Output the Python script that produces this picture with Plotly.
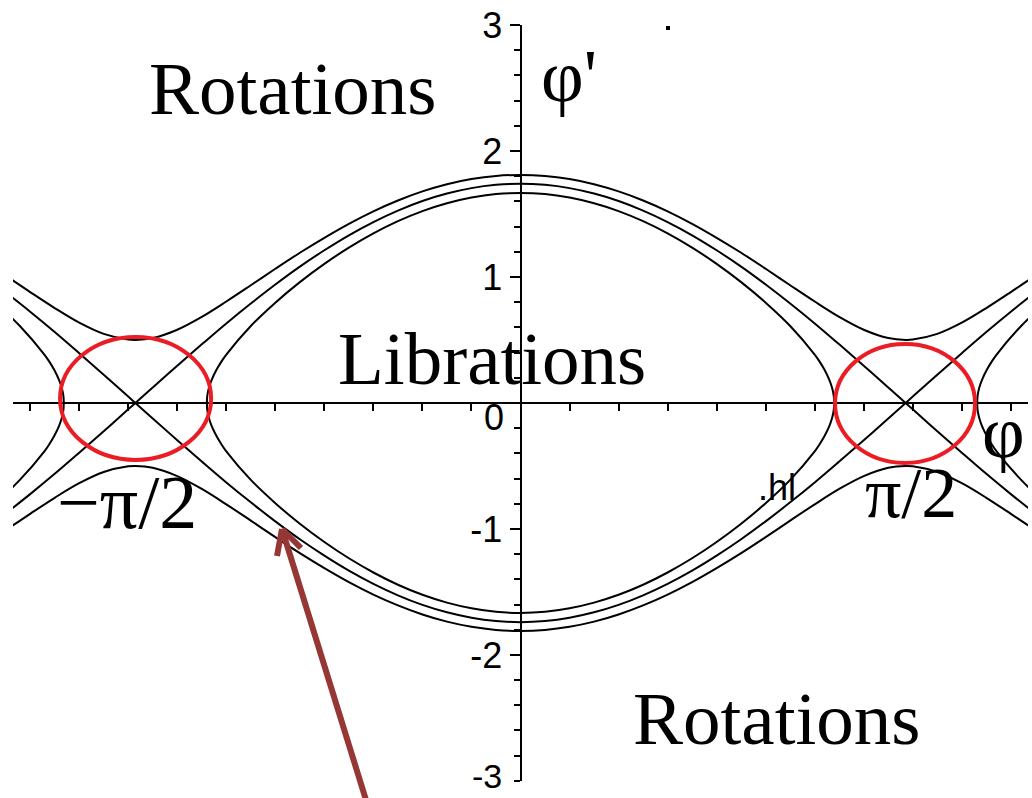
import plotly.graph_objects as go

# ---- phase-portrait data (phi >= 0 half; the portrait is symmetric) ----
phi_half = [0.0, 0.1, 0.2, 0.3, 0.4, 0.5, 0.6, 0.7, 0.8, 0.9, 1.0, 1.1, 1.2,
            1.3, 1.4, 1.5, 1.571, 1.6, 1.7, 1.8, 1.9, 2.0, 2.1]
separatrix_half = [1.740, 1.731, 1.705, 1.662, 1.603, 1.527, 1.436, 1.331, 1.212,
                   1.082, 0.940, 0.789, 0.631, 0.465, 0.296, 0.123, 0.000, -0.051,
                   -0.224, -0.395, -0.563, -0.724, -0.878]
rotation_half = [1.810, 1.802, 1.777, 1.736, 1.679, 1.607, 1.521, 1.422, 1.311,
                 1.192, 1.065, 0.934, 0.805, 0.683, 0.581, 0.515, 0.500, 0.503,
                 0.548, 0.637, 0.753, 0.880, 1.011]

libration_phi_half = [0.0, 0.1, 0.2, 0.3, 0.4, 0.5, 0.6, 0.7, 0.8, 0.9, 1.0, 1.1,
                      1.2, 1.22, 1.24, 1.26, 1.27, 1.275, 1.278, 1.279]
libration_half = [1.667, 1.658, 1.630, 1.585, 1.523, 1.443, 1.346, 1.233, 1.104,
                  0.959, 0.796, 0.611, 0.384, 0.328, 0.263, 0.182, 0.126, 0.086,
                  0.048, 0.0]

# neighbouring libration well (around phi = +/- pi), same energy level
side_phi = [1.863, 1.864, 1.867, 1.872, 1.882, 1.902, 1.922, 1.942, 2.042, 2.142]
side_vals = [0.0, 0.048, 0.086, 0.126, 0.182, 0.263, 0.328, 0.384, 0.611, 0.796]

y_tick_vals = [-2, -1, 1, 2, 3]
y_tick_text = ["-2", "-1", "1", "2", "3"]

# ---- build full curves ----
def mirror(xs, ys):
    return ([-x for x in reversed(xs[1:])] + list(xs),
            list(reversed(ys[1:])) + list(ys))

phi_full, sep_full = mirror(phi_half, separatrix_half)
_, rot_full = mirror(phi_half, rotation_half)

lib_x_up, lib_y_up = mirror(libration_phi_half, libration_half)
lib_x = lib_x_up + list(reversed(lib_x_up))[1:]
lib_y = lib_y_up + [-v for v in reversed(lib_y_up)][1:]

side_x = list(reversed(side_phi)) + side_phi[1:]
side_y = list(reversed(side_vals)) + [-v for v in side_vals[1:]]

line_style = dict(color="black", width=2, shape="spline", smoothing=1.0)

fig = go.Figure()
for ys in (sep_full, [-v for v in sep_full], rot_full, [-v for v in rot_full]):
    fig.add_trace(go.Scatter(x=phi_full, y=ys, mode="lines", line=line_style,
                             hoverinfo="skip"))
fig.add_trace(go.Scatter(x=lib_x, y=lib_y, mode="lines", line=line_style,
                         hoverinfo="skip"))
for sgn in (1, -1):
    fig.add_trace(go.Scatter(x=[sgn * v for v in side_x], y=side_y, mode="lines",
                             line=line_style, hoverinfo="skip"))

# ---- page geometry helpers ----
W, H = 1032, 798
ML, MR, MT, MB = 13, 4, 25, 17
PW, PH = W - ML - MR, H - MT - MB


def px(x):
    return (x - ML) / PW


def py(y):
    return (H - MB - y) / PH


serif = "Liberation Serif"
sans = "Liberation Sans"

annotations = []


def label(text, x, y, size, family=serif, xanchor="center", yanchor="middle"):
    annotations.append(dict(text=text, x=px(x), y=py(y), xref="paper", yref="paper",
                            showarrow=False, xanchor=xanchor, yanchor=yanchor,
                            font=dict(family=family, size=size, color="black")))


label("Rotations", 293, 88, 75)
label("Librations", 492, 358, 75)
label("Rotations", 777, 718, 75)
label("\u2212\u03c0/2", 127, 502, 76)
label("\u03c0/2", 911, 493, 72)
label("\u03c6'", 569, 76, 74)
label("\u03c6", 980, 432, 74, xanchor="left")
label("0", 494, 418, 36, family=sans)
label(".hl", 777, 487, 36, family=sans)
# lowest y tick label, kept inside the page
label("-3", 504, 797, 34, family=sans, xanchor="right", yanchor="bottom")

shapes = []
red = "#ec1c24"
# circles around the two saddle points
shapes.append(dict(type="circle", xref="x", yref="y", x0=-1.878, x1=-1.262,
                   y0=-0.452, y1=0.524, line=dict(color=red, width=4)))
shapes.append(dict(type="circle", xref="x", yref="y", x0=1.283, x1=1.854,
                   y0=-0.476, y1=0.468, line=dict(color=red, width=4)))

# arrow pointing at the separatrix
brown = "#953735"
tip = (282, 529)
shapes.append(dict(type="line", xref="paper", yref="paper",
                   x0=px(366), y0=py(800), x1=px(tip[0]), y1=py(tip[1]),
                   line=dict(color=brown, width=6)))
for end in ((277, 556), (301, 548)):
    shapes.append(dict(type="line", xref="paper", yref="paper",
                       x0=px(tip[0]), y0=py(tip[1]), x1=px(end[0]), y1=py(end[1]),
                       line=dict(color=brown, width=6)))

# small stray dot near the top
shapes.append(dict(type="rect", xref="paper", yref="paper",
                   x0=px(666), x1=px(670), y0=py(30), y1=py(26),
                   fillcolor="black", line=dict(width=0)))

fig.update_layout(
    width=W, height=H, autosize=False,
    margin=dict(l=ML, r=MR, t=MT, b=MB, pad=0),
    paper_bgcolor="white", plot_bgcolor="white",
    showlegend=False,
    xaxis=dict(range=[-2.07, 2.07], anchor="free", position=0.5,
               showline=True, linecolor="black", linewidth=2,
               ticks="outside", ticklen=7, tickwidth=2, tickcolor="black",
               tick0=0, dtick=0.2, showticklabels=False,
               showgrid=False, zeroline=False, automargin=False),
    yaxis=dict(range=[-3.001, 3], anchor="free", position=0.5,
               showline=True, linecolor="black", linewidth=2,
               ticks="outside", ticklen=10, tickwidth=2, tickcolor="black",
               tickvals=y_tick_vals, ticktext=y_tick_text,
               ticklabeloverflow="allow",
               tickfont=dict(family=sans, size=36, color="black"),
               minor=dict(tick0=0, dtick=0.2, ticks="outside", ticklen=6,
                          tickwidth=2, tickcolor="black", showgrid=False),
               showgrid=False, zeroline=False, automargin=False),
    annotations=annotations,
    shapes=shapes,
)

fig.write_html("out.html")
